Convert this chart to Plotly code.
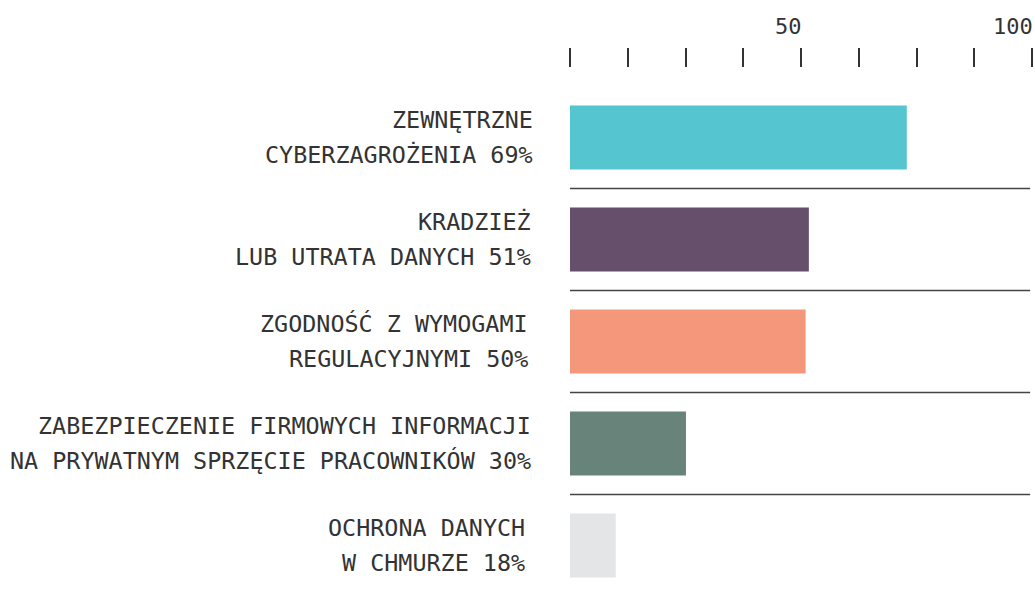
import plotly.graph_objects as go

# Data
label_lines = [
    ["ZEWNĘTRZNE", "CYBERZAGROŻENIA 69%"],
    ["KRADZIEŻ", "LUB UTRATA DANYCH 51%"],
    ["ZGODNOŚĆ Z WYMOGAMI", "REGULACYJNYMI 50%"],
    ["ZABEZPIECZENIE FIRMOWYCH INFORMACJI", "NA PRYWATNYM SPRZĘCIE PRACOWNIKÓW 30%"],
    ["OCHRONA DANYCH", "W CHMURZE 18%"],
]
bar_values = [72.9, 51.7, 51.0, 25.1, 9.9]  # bar lengths as drawn
tick_values = [0, 12.5, 25, 37.5, 50, 62.5, 75, 87.5, 100]
tick_labels = {50: "50", 100: "100"}

colors = ["#55C5CF", "#654F6B", "#F5977A", "#68837A", "#E4E5E7"]
FONT = "DejaVu Sans Mono"
TXT = "#333333"

positions = list(range(len(bar_values)))

fig = go.Figure()
fig.add_trace(go.Bar(
    x=bar_values, y=positions, orientation="h",
    marker=dict(color=colors, line=dict(width=0)),
    width=0.627, hoverinfo="skip",
))

shapes = []
for i in positions[:-1]:
    shapes.append(dict(type="line", xref="x", yref="y", x0=0, x1=99.6,
                       y0=i + 0.5, y1=i + 0.5,
                       line=dict(color="#444444", width=1.5)))

annotations = []
label_xshift = [-35, -37, -40, -37, -43]
for i, lines in enumerate(label_lines):
    for k, line in enumerate(lines):
        annotations.append(dict(
            x=0, y=i, xref="x", yref="y", text=line, showarrow=False,
            xanchor="right", yanchor="middle", align="right",
            xshift=label_xshift[i], yshift=17.5 if k == 0 else -17.5,
            font=dict(family=FONT, size=23.4, color=TXT),
        ))
for v, t in tick_labels.items():
    annotations.append(dict(
        x=v, y=1.079, xref="x", yref="paper", text=t, showarrow=False,
        xanchor="right", yanchor="middle", xshift=3,
        font=dict(family=FONT, size=22, color=TXT),
    ))

fig.update_layout(
    width=1035, height=591,
    margin=dict(l=570, r=3, t=68, b=0),
    plot_bgcolor="white", paper_bgcolor="white",
    showlegend=False,
    shapes=shapes, annotations=annotations,
    xaxis=dict(range=[0, 100], side="top", showgrid=False, zeroline=False,
               showline=False, tickvals=tick_values, showticklabels=False,
               ticks="outside", ticklen=19, tickwidth=1.5, tickcolor="#333333",
               fixedrange=True),
    yaxis=dict(range=[4.446, -0.681], showgrid=False, zeroline=False,
               showline=False, showticklabels=False, ticks="", fixedrange=True),
)

fig.write_html("out.html", config={"displayModeBar": False},
               post_script="document.body.style.margin='0';document.body.style.overflow='hidden';")
